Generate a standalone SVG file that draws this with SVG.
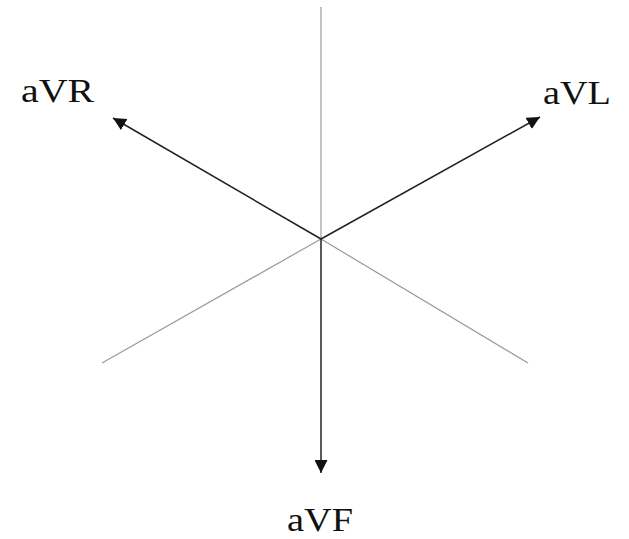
<svg xmlns="http://www.w3.org/2000/svg" width="629" height="539" viewBox="0 0 629 539">
<style>
.ref{stroke:#9a9a9a;stroke-width:1.2;fill:none}
.ax{stroke:#222;stroke-width:1.5;fill:none}
.lbl{font-family:"Liberation Serif",serif;font-size:33px;fill:#111}
</style>
<defs>
<marker id="ahb" viewBox="0 0 10 10" refX="10" refY="5" markerWidth="13" markerHeight="13" markerUnits="userSpaceOnUse" orient="auto">
<path d="M0,0 L10,5 L0,10 z" fill="#111"/>
</marker>
</defs>
<g id="connectors">
<line class="ref" x1="321" y1="7" x2="321" y2="239"/>
<line class="ref" x1="321" y1="239" x2="102" y2="363"/>
<line class="ref" x1="321" y1="239" x2="528" y2="363"/>
<line class="ax" x1="321" y1="239" x2="113" y2="118" marker-end="url(#ahb)"/>
<line class="ax" x1="321" y1="239" x2="540" y2="117" marker-end="url(#ahb)"/>
<line class="ax" x1="321" y1="239" x2="321" y2="473" marker-end="url(#ahb)"/>
</g>
<g id="aVR"><text class="lbl" x="21" y="102" textLength="73" lengthAdjust="spacingAndGlyphs">aVR</text></g>
<g id="aVL"><text class="lbl" x="543" y="104" textLength="68" lengthAdjust="spacingAndGlyphs">aVL</text></g>
<g id="aVF"><text class="lbl" x="287" y="531" textLength="66" lengthAdjust="spacingAndGlyphs">aVF</text></g>
</svg>
